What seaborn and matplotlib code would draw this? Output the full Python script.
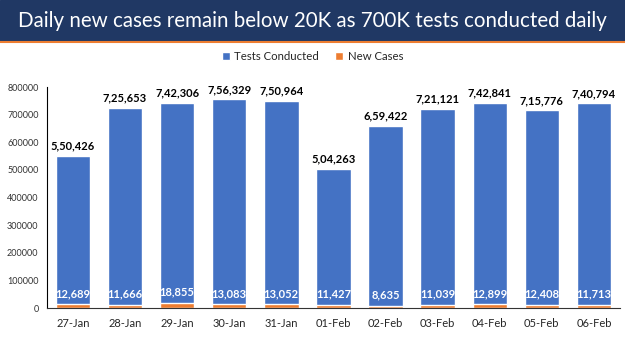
import numpy as np
import pandas as pd
import matplotlib.pyplot as plt
import seaborn as sns
from matplotlib.patches import Rectangle
from matplotlib.lines import Line2D

dates = ['27-Jan', '28-Jan', '29-Jan', '30-Jan', '31-Jan', '01-Feb',
         '02-Feb', '03-Feb', '04-Feb', '05-Feb', '06-Feb']
tests = [550426, 725653, 742306, 756329, 750964, 504263,
         659422, 721121, 742841, 715776, 740794]
cases = [12689, 11666, 18855, 13083, 13052, 11427,
         8635, 11039, 12899, 12408, 11713]

df = pd.DataFrame({'date': dates, 'tests': tests, 'cases': cases})


# indian style grouping 7,42,306
def indian(n):
    s = str(n)
    if len(s) <= 3:
        return s
    head, tail = s[:-3], s[-3:]
    parts = []
    while len(head) > 2:
        parts.insert(0, head[-2:])
        head = head[:-2]
    if head:
        parts.insert(0, head)
    return ','.join(parts) + ',' + tail


sns.set_style('white')
plt.rcParams['font.family'] = ['Lato', 'DejaVu Sans']

blue = '#4472C4'
orange = '#ED7D31'

fig = plt.figure(figsize=(6.25, 3.51), dpi=100)

# title banner
fig.patches.append(Rectangle((0, 1 - 41 / 351), 1, 41 / 351, transform=fig.transFigure,
                             color='#203864', zorder=0))
fig.lines.append(Line2D([0, 1], [1 - 42 / 351, 1 - 42 / 351], transform=fig.transFigure,
                        color=orange, lw=1.5))
fig.text(0.5, 1 - 21 / 351, 'Daily new cases remain below 20K as 700K tests conducted daily',
         color='white', fontsize=14.8, ha='center', va='center')

ax = fig.add_axes([0.075, 0.1225, 0.917, 0.6295])

sns.barplot(data=df, x='date', y='tests', color=blue, width=0.66, ax=ax,
            saturation=1, label='Tests Conducted')
sns.barplot(data=df, x='date', y='cases', color=orange, width=0.66, ax=ax,
            saturation=1, label='New Cases')

for i, (t, c) in enumerate(zip(tests, cases)):
    ax.annotate(indian(t), (i, t), xytext=(0, 3), textcoords='offset points',
                ha='center', va='bottom', fontsize=8, fontweight='bold', color='black')
    ax.text(i, c + 19000, indian(c), ha='center', va='bottom', fontsize=8,
            fontweight='bold', color='white')

ax.set_ylim(0, 800000)
ax.set_xlim(-0.5, len(dates) - 0.5)
ax.set_yticks(np.arange(0, 800001, 100000))
ax.set_xlabel('')
ax.set_ylabel('')
ax.tick_params(axis='y', labelsize=6.5, length=0, labelcolor='#333333', pad=6)
ax.tick_params(axis='x', labelsize=8, length=0, pad=7)
ax.set_xticks(np.arange(-0.5, len(dates), 1), minor=True)
ax.tick_params(axis='x', which='minor', length=4, direction='out', color='#333333')

for s in ['top', 'right']:
    ax.spines[s].set_visible(False)
ax.spines['left'].set_color('black')
ax.spines['bottom'].set_color('#333333')
ax.spines['left'].set_linewidth(0.8)
ax.plot(-0.5, 1, '^k', markersize=3, transform=ax.get_yaxis_transform(), clip_on=False)

leg = fig.legend(*ax.get_legend_handles_labels(), loc='center', bbox_to_anchor=(0.5, 1 - 56 / 351),
                 ncol=2, frameon=False, fontsize=8.2, handlelength=0.7, handleheight=0.7,
                 columnspacing=1.4, handletextpad=0.4)
if ax.get_legend():
    ax.get_legend().remove()

plt.savefig('out.png', dpi=100)
